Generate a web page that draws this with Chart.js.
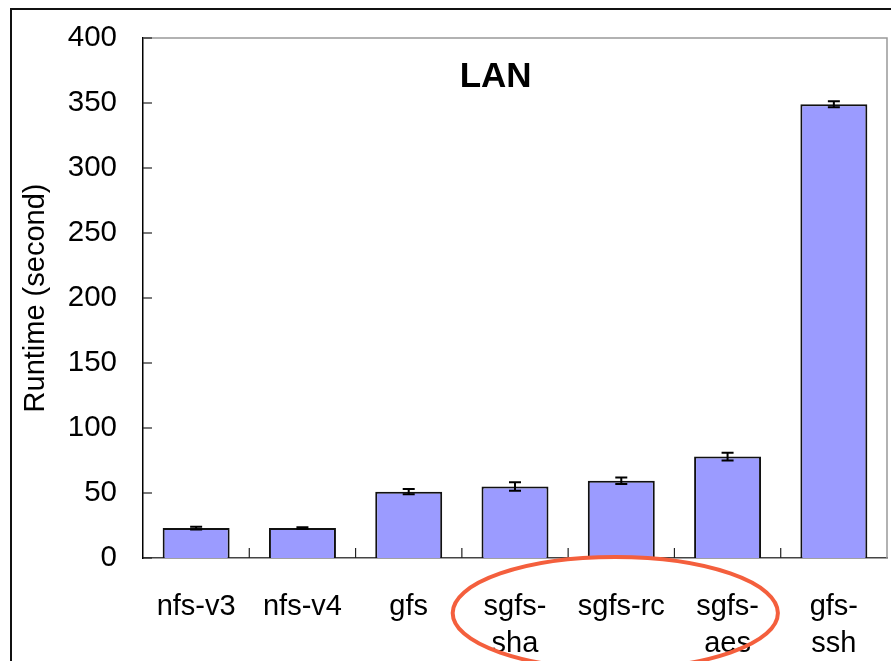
<!DOCTYPE html>
<html>
<head>
<meta charset="utf-8">
<script src="https://cdn.jsdelivr.net/npm/chart.js@4"></script>
<style>
html,body{margin:0;padding:0;background:#fff;}
canvas{display:block;}
</style>
</head>
<body>
<canvas id="c" width="891" height="661"></canvas>
<script>
const categories = [["nfs-v3"], ["nfs-v4"], ["gfs"], ["sgfs-", "sha"], ["sgfs-rc"], ["sgfs-", "aes"], ["gfs-", "ssh"]];
const runtimes = [23, 23, 51, 55, 59.5, 78, 349];
const errors = [1, 0.6, 2, 3.2, 2.5, 3, 2.3];
const yTicks = [0, 50, 100, 150, 200, 250, 300, 350, 400];
const chartTitle = "LAN";
const yTitle = "Runtime (second)";
const highlighted = [3, 4, 5];

const FONT = "'Liberation Sans', Arial, Helvetica, sans-serif";

const decorPlugin = {
  id: 'decor',
  beforeDraw(chart) {
    const ctx = chart.ctx;
    ctx.save();
    ctx.fillStyle = '#fff';
    ctx.fillRect(0, 0, chart.width, chart.height);
    ctx.strokeStyle = '#111';
    ctx.lineWidth = 2;
    ctx.beginPath();
    ctx.moveTo(11, chart.height);
    ctx.lineTo(11, 9);
    ctx.lineTo(chart.width, 9);
    ctx.stroke();
    ctx.restore();
  },
  afterDraw(chart) {
    const ctx = chart.ctx;
    const a = chart.chartArea;
    const xs = chart.scales.x, ys = chart.scales.y;
    ctx.save();
    ctx.strokeStyle = '#999';
    ctx.lineWidth = 1.5;
    ctx.beginPath();
    ctx.moveTo(a.left, a.top);
    ctx.lineTo(a.right, a.top);
    ctx.lineTo(a.right, a.bottom);
    ctx.stroke();
    ctx.strokeStyle = '#222';
    ctx.lineWidth = 1.2;
    ys.ticks.forEach((t, i) => {
      const y = ys.getPixelForTick(i);
      ctx.beginPath();
      ctx.moveTo(a.left, y);
      ctx.lineTo(a.left + 9, y);
      ctx.stroke();
    });
    for (let i = 0; i < categories.length - 1; i++) {
      const xb = (xs.getPixelForValue(i) + xs.getPixelForValue(i + 1)) / 2;
      ctx.beginPath();
      ctx.moveTo(xb, a.bottom);
      ctx.lineTo(xb, a.bottom - 10);
      ctx.stroke();
    }
    const meta = chart.getDatasetMeta(0);
    ctx.strokeStyle = '#000';
    ctx.lineWidth = 2;
    meta.data.forEach((bar, i) => {
      const yt = ys.getPixelForValue(runtimes[i] + errors[i]);
      const yb = ys.getPixelForValue(runtimes[i] - errors[i]);
      const x = bar.x;
      ctx.beginPath();
      ctx.moveTo(x, yt); ctx.lineTo(x, yb);
      ctx.moveTo(x - 6, yt); ctx.lineTo(x + 6, yt);
      ctx.moveTo(x - 6, yb); ctx.lineTo(x + 6, yb);
      ctx.stroke();
    });
    ctx.fillStyle = '#000';
    ctx.font = 'bold 35px ' + FONT;
    ctx.textAlign = 'center';
    ctx.textBaseline = 'alphabetic';
    ctx.fillText(chartTitle, a.left + (a.right - a.left) * 0.474, a.top + 49);
    const x0 = xs.getPixelForValue(highlighted[0]);
    const x1 = xs.getPixelForValue(highlighted[highlighted.length - 1]);
    const cw = xs.getPixelForValue(1) - xs.getPixelForValue(0);
    ctx.strokeStyle = '#F45F3D';
    ctx.lineWidth = 4;
    ctx.beginPath();
    ctx.ellipse((x0 + x1) / 2 - 6, a.bottom + 55, (x1 - x0) / 2 + cw * 0.53, 56, 0, 0, Math.PI * 2);
    ctx.stroke();
    ctx.restore();
  }
};

new Chart(document.getElementById('c'), {
  type: 'bar',
  data: {
    labels: categories,
    datasets: [{
      data: runtimes,
      backgroundColor: '#9B9BFF',
      borderColor: '#111',
      borderWidth: 2,
      borderSkipped: 'start',
      barPercentage: 0.63,
      categoryPercentage: 1.0
    }]
  },
  options: {
    responsive: false,
    animation: false,
    layout: { padding: { top: 38, right: 4, left: 0, bottom: 0 } },
    plugins: { legend: { display: false }, tooltip: { enabled: false }, title: { display: false } },
    scales: {
      x: {
        grid: { display: false, drawTicks: false },
        border: { display: true, color: '#444', width: 1.5 },
        ticks: {
          color: '#000',
          font: { family: FONT, size: 29, lineHeight: 1.28 },
          padding: 30,
          maxRotation: 0,
          autoSkip: false
        },
        afterFit(s) { s.height = 103; s.paddingLeft = 0; s.paddingRight = 0; }
      },
      y: {
        min: 0, max: 400,
        afterBuildTicks(s) { s.ticks = yTicks.map(v => ({ value: v })); },
        grid: { display: false, drawTicks: false },
        border: { display: true, color: '#000', width: 1.5 },
        ticks: {
          color: '#000',
          font: { family: FONT, size: 29.5 },
          padding: 26
        },
        title: {
          display: true,
          text: yTitle,
          color: '#000',
          font: { family: FONT, size: 29 },
          padding: { top: 19, bottom: 0 }
        },
        afterFit(s) { s.width = 143; s.paddingTop = 0; s.paddingBottom = 0; }
      }
    }
  },
  plugins: [decorPlugin]
});
</script>
</body>
</html>
